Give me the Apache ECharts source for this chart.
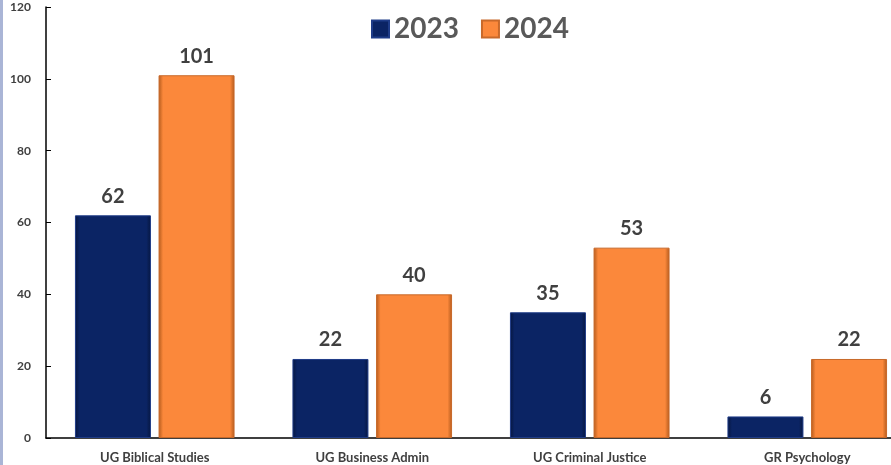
<!DOCTYPE html>
<html>
<head>
<meta charset="utf-8">
<script src="https://cdn.jsdelivr.net/npm/echarts@6/dist/echarts.min.js"></script>
<style>
    html, body { margin: 0; padding: 0; background: #fff; }
    #chart { width: 891px; height: 465px; }
</style>
</head>
<body>
<div id="chart"></div>
<script>
const categories = ["UG Biblical Studies", "UG Business Admin", "UG Criminal Justice", "GR Psychology"];
const values2023 = [62, 22, 35, 6];
const values2024 = [101, 40, 53, 22];
const yTicks = [0, 20, 40, 60, 80, 100, 120];

const fontFamily = "Lato, 'Open Sans', sans-serif";

function barGradient(edge, mid) {
    return new echarts.graphic.LinearGradient(0, 0, 1, 0, [
        { offset: 0, color: edge },
        { offset: 0.06, color: mid },
        { offset: 0.94, color: mid },
        { offset: 1, color: edge },
    ]);
}

let chart = echarts.init(document.getElementById("chart"), null, { renderer: "canvas" });

chart.setOption({
    animation: false,
    graphic: [
        {
            type: "rect",
            shape: { x: 0, y: 0, width: 3, height: 465 },
            style: { fill: "#aab5d6" },
        },
    ],
    legend: {
        top: 10,
        left: 366,
        icon: "rect",
        itemWidth: 17,
        itemHeight: 17,
        itemGap: 22,
        textStyle: {
            fontFamily: fontFamily,
            fontSize: 28,
            fontWeight: "bold",
            color: "#595959",
        },
        data: ["2023", "2024"],
    },
    grid: {
        left: 46,
        width: 870,
        top: 7,
        bottom: 27,
        containLabel: false,
        outerBoundsMode: "none",
    },
    xAxis: {
        type: "category",
        data: categories,
        axisLine: { lineStyle: { color: "#000", width: 1.5 } },
        axisTick: { show: false },
        axisLabel: {
            fontFamily: fontFamily,
            fontSize: 13,
            fontWeight: "bold",
            color: "#404040",
            margin: 13,
        },
    },
    yAxis: {
        type: "value",
        min: yTicks[0],
        max: yTicks[yTicks.length - 1],
        interval: 20,
        splitLine: { show: false },
        axisLine: { show: true, lineStyle: { color: "#000", width: 1.5 } },
        axisTick: { show: true, inside: true, length: 5, lineStyle: { color: "#000" } },
        axisLabel: {
            fontFamily: fontFamily,
            fontSize: 12,
            fontWeight: "bold",
            color: "#404040",
            margin: 15,
        },
    },
    series: [
        {
            name: "2023",
            type: "bar",
            data: values2023,
            barWidth: 76,
            barGap: "10%",
            itemStyle: {
                color: barGradient("#06163f", "#0b2464"),
                borderColor: "#1f3c88",
                borderWidth: 1,
            },
            label: {
                show: true,
                position: "top",
                distance: 9,
                fontFamily: fontFamily,
                fontSize: 20,
                fontWeight: "bold",
                color: "#404040",
            },
        },
        {
            name: "2024",
            type: "bar",
            data: values2024,
            barWidth: 76,
            barGap: "10%",
            itemStyle: {
                color: barGradient("#b35a1c", "#fb883b"),
                borderColor: "#c8692a",
                borderWidth: 1,
            },
            label: {
                show: true,
                position: "top",
                distance: 9,
                fontFamily: fontFamily,
                fontSize: 20,
                fontWeight: "bold",
                color: "#404040",
            },
        },
    ],
});
</script>
</body>
</html>
